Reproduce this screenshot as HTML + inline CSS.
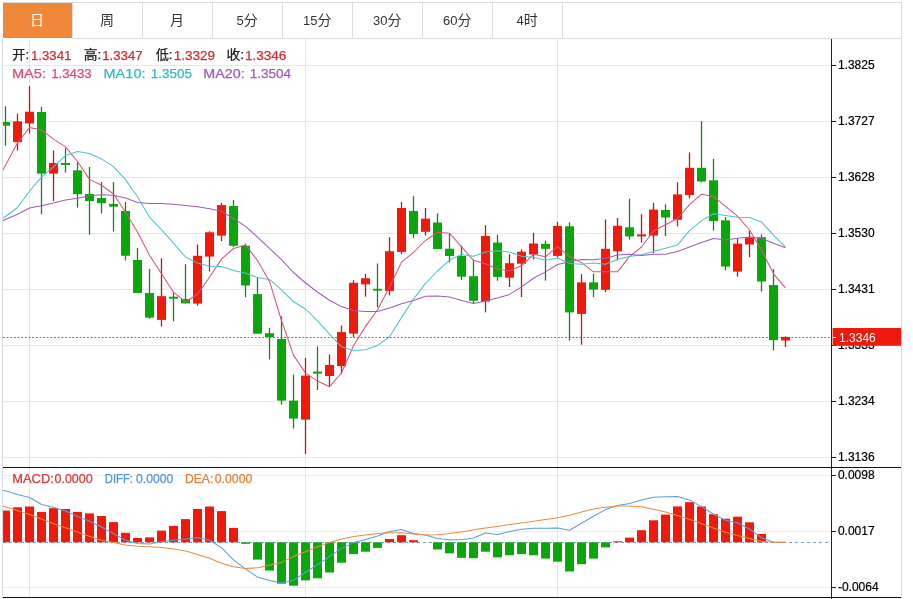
<!DOCTYPE html>
<html lang="zh"><head><meta charset="utf-8"><title>K线图</title>
<style>
html,body{margin:0;padding:0;background:#fff;}
body{width:913px;height:599px;overflow:hidden;}
svg text{font-family:"Liberation Sans","Noto Sans CJK SC",sans-serif;}
</style></head><body>
<svg width="913" height="599" viewBox="0 0 913 599" style="display:block">
<defs><clipPath id="cp"><rect x="3" y="39" width="828" height="560"/></clipPath></defs>
<rect width="913" height="599" fill="#fff"/>
<g shape-rendering="crispEdges">
<rect x="2" y="2" width="900" height="1" fill="#dcdcdc"/>
<rect x="72" y="38" width="830" height="1" fill="#dcdcdc"/>
<rect x="901" y="2" width="1" height="597" fill="#dcdcdc"/>
<rect x="2" y="38" width="1" height="561" fill="#d6dbe6"/>
<rect x="72" y="3" width="1" height="35" fill="#dcdcdc"/>
<rect x="142" y="3" width="1" height="35" fill="#dcdcdc"/>
<rect x="212" y="3" width="1" height="35" fill="#dcdcdc"/>
<rect x="282" y="3" width="1" height="35" fill="#dcdcdc"/>
<rect x="352" y="3" width="1" height="35" fill="#dcdcdc"/>
<rect x="422" y="3" width="1" height="35" fill="#dcdcdc"/>
<rect x="492" y="3" width="1" height="35" fill="#dcdcdc"/>
<rect x="562" y="3" width="1" height="35" fill="#dcdcdc"/>
<rect x="3" y="3" width="69" height="35" fill="#f0883a"/>
<rect x="3" y="65" width="828" height="1" fill="#e8e8e8"/>
<rect x="3" y="121" width="828" height="1" fill="#e8e8e8"/>
<rect x="3" y="177" width="828" height="1" fill="#e8e8e8"/>
<rect x="3" y="233" width="828" height="1" fill="#e8e8e8"/>
<rect x="3" y="289" width="828" height="1" fill="#e8e8e8"/>
<rect x="3" y="345" width="828" height="1" fill="#e8e8e8"/>
<rect x="3" y="401" width="828" height="1" fill="#e8e8e8"/>
<rect x="3" y="457" width="828" height="1" fill="#e8e8e8"/>
<rect x="3" y="475" width="828" height="1" fill="#e9eef4"/>
<rect x="3" y="531" width="828" height="1" fill="#e9eef4"/>
<rect x="3" y="587" width="828" height="1" fill="#e9eef4"/>
<rect x="29" y="39" width="1" height="559" fill="#e3e5e9"/>
<rect x="305" y="39" width="1" height="559" fill="#e3e5e9"/>
<rect x="557" y="39" width="1" height="559" fill="#e3e5e9"/>
</g>
<text x="37" y="24.9" text-anchor="middle" font-size="14" fill="#fff">日</text>
<text x="107" y="24.9" text-anchor="middle" font-size="14" fill="#333">周</text>
<text x="177" y="24.9" text-anchor="middle" font-size="14" fill="#333">月</text>
<text x="247.2" y="24.9" text-anchor="middle" font-size="14" fill="#333"><tspan font-size="13">5</tspan>分</text>
<text x="317.2" y="24.9" text-anchor="middle" font-size="14" fill="#333"><tspan font-size="13">15</tspan>分</text>
<text x="387.2" y="24.9" text-anchor="middle" font-size="14" fill="#333"><tspan font-size="13">30</tspan>分</text>
<text x="457.2" y="24.9" text-anchor="middle" font-size="14" fill="#333"><tspan font-size="13">60</tspan>分</text>
<text x="527.2" y="24.9" text-anchor="middle" font-size="14" fill="#333"><tspan font-size="13">4</tspan>时</text>
<g clip-path="url(#cp)">
<line x1="3" y1="542.5" x2="831" y2="542.5" stroke="#6fa3cc" stroke-width="1" stroke-dasharray="3,3"/>
<g shape-rendering="crispEdges">
<rect x="4.85" y="106.3" width="1.3" height="39.4" fill="#237a2a" shape-rendering="auto"/>
<rect x="1" y="122.0" width="9" height="3.7" fill="#0aa60c" shape-rendering="auto"/>
<rect x="16.85" y="113.7" width="1.3" height="36.9" fill="#a82020" shape-rendering="auto"/>
<rect x="13" y="121.4" width="9" height="20.7" fill="#ef1a0c" shape-rendering="auto"/>
<rect x="28.85" y="86.2" width="1.3" height="47.2" fill="#a82020" shape-rendering="auto"/>
<rect x="25" y="111.7" width="9" height="11.8" fill="#ef1a0c" shape-rendering="auto"/>
<rect x="40.85" y="106.6" width="1.3" height="107.6" fill="#237a2a" shape-rendering="auto"/>
<rect x="37" y="112.0" width="9" height="61.6" fill="#0aa60c" shape-rendering="auto"/>
<rect x="52.85" y="150.6" width="1.3" height="50.4" fill="#a82020" shape-rendering="auto"/>
<rect x="49" y="163.0" width="9" height="10.6" fill="#ef1a0c" shape-rendering="auto"/>
<rect x="64.85" y="148.2" width="1.3" height="24.3" fill="#237a2a" shape-rendering="auto"/>
<rect x="61" y="163.0" width="9" height="2.0" fill="#0aa60c" shape-rendering="auto"/>
<rect x="76.85" y="162.0" width="1.3" height="45.6" fill="#237a2a" shape-rendering="auto"/>
<rect x="73" y="170.3" width="9" height="23.9" fill="#0aa60c" shape-rendering="auto"/>
<rect x="88.85" y="167.0" width="1.3" height="67.7" fill="#237a2a" shape-rendering="auto"/>
<rect x="85" y="194.0" width="9" height="7.0" fill="#0aa60c" shape-rendering="auto"/>
<rect x="100.85" y="182.2" width="1.3" height="31.2" fill="#237a2a" shape-rendering="auto"/>
<rect x="97" y="198.0" width="9" height="5.2" fill="#0aa60c" shape-rendering="auto"/>
<rect x="112.85" y="182.0" width="1.3" height="49.5" fill="#237a2a" shape-rendering="auto"/>
<rect x="109" y="204.0" width="9" height="2.7" fill="#0aa60c" shape-rendering="auto"/>
<rect x="124.85" y="202.0" width="1.3" height="58.4" fill="#237a2a" shape-rendering="auto"/>
<rect x="121" y="211.0" width="9" height="44.7" fill="#0aa60c" shape-rendering="auto"/>
<rect x="136.85" y="248.0" width="1.3" height="45.0" fill="#237a2a" shape-rendering="auto"/>
<rect x="133" y="260.0" width="9" height="33.0" fill="#0aa60c" shape-rendering="auto"/>
<rect x="148.85" y="269.0" width="1.3" height="49.7" fill="#237a2a" shape-rendering="auto"/>
<rect x="145" y="293.0" width="9" height="24.6" fill="#0aa60c" shape-rendering="auto"/>
<rect x="160.85" y="258.3" width="1.3" height="68.3" fill="#a82020" shape-rendering="auto"/>
<rect x="157" y="296.2" width="9" height="23.7" fill="#ef1a0c" shape-rendering="auto"/>
<rect x="172.85" y="292.4" width="1.3" height="28.8" fill="#237a2a" shape-rendering="auto"/>
<rect x="169" y="296.7" width="9" height="2.0" fill="#0aa60c" shape-rendering="auto"/>
<rect x="184.85" y="264.2" width="1.3" height="39.2" fill="#237a2a" shape-rendering="auto"/>
<rect x="181" y="299.0" width="9" height="4.4" fill="#0aa60c" shape-rendering="auto"/>
<rect x="196.85" y="244.5" width="1.3" height="61.1" fill="#a82020" shape-rendering="auto"/>
<rect x="193" y="255.8" width="9" height="47.8" fill="#ef1a0c" shape-rendering="auto"/>
<rect x="208.85" y="231.2" width="1.3" height="40.2" fill="#a82020" shape-rendering="auto"/>
<rect x="205" y="232.3" width="9" height="24.3" fill="#ef1a0c" shape-rendering="auto"/>
<rect x="220.85" y="202.7" width="1.3" height="38.4" fill="#a82020" shape-rendering="auto"/>
<rect x="217" y="205.1" width="9" height="30.5" fill="#ef1a0c" shape-rendering="auto"/>
<rect x="232.85" y="200.0" width="1.3" height="47.2" fill="#237a2a" shape-rendering="auto"/>
<rect x="229" y="206.0" width="9" height="39.8" fill="#0aa60c" shape-rendering="auto"/>
<rect x="244.85" y="243.7" width="1.3" height="53.5" fill="#237a2a" shape-rendering="auto"/>
<rect x="241" y="245.8" width="9" height="39.7" fill="#0aa60c" shape-rendering="auto"/>
<rect x="256.85" y="277.4" width="1.3" height="56.3" fill="#237a2a" shape-rendering="auto"/>
<rect x="253" y="294.1" width="9" height="39.6" fill="#0aa60c" shape-rendering="auto"/>
<rect x="268.85" y="327.8" width="1.3" height="31.7" fill="#237a2a" shape-rendering="auto"/>
<rect x="265" y="333.2" width="9" height="3.8" fill="#0aa60c" shape-rendering="auto"/>
<rect x="280.85" y="316.3" width="1.3" height="88.4" fill="#237a2a" shape-rendering="auto"/>
<rect x="277" y="339.0" width="9" height="61.6" fill="#0aa60c" shape-rendering="auto"/>
<rect x="292.85" y="374.5" width="1.3" height="54.0" fill="#237a2a" shape-rendering="auto"/>
<rect x="289" y="400.6" width="9" height="18.0" fill="#0aa60c" shape-rendering="auto"/>
<rect x="304.85" y="357.9" width="1.3" height="96.1" fill="#a82020" shape-rendering="auto"/>
<rect x="301" y="375.6" width="9" height="44.0" fill="#ef1a0c" shape-rendering="auto"/>
<rect x="316.85" y="346.4" width="1.3" height="43.6" fill="#237a2a" shape-rendering="auto"/>
<rect x="313" y="371.5" width="9" height="2.1" fill="#0aa60c" shape-rendering="auto"/>
<rect x="328.85" y="354.6" width="1.3" height="31.7" fill="#a82020" shape-rendering="auto"/>
<rect x="325" y="365.0" width="9" height="11.0" fill="#ef1a0c" shape-rendering="auto"/>
<rect x="340.85" y="325.5" width="1.3" height="48.5" fill="#a82020" shape-rendering="auto"/>
<rect x="337" y="332.1" width="9" height="34.0" fill="#ef1a0c" shape-rendering="auto"/>
<rect x="352.85" y="280.2" width="1.3" height="56.8" fill="#a82020" shape-rendering="auto"/>
<rect x="349" y="282.8" width="9" height="50.8" fill="#ef1a0c" shape-rendering="auto"/>
<rect x="364.85" y="273.9" width="1.3" height="22.8" fill="#a82020" shape-rendering="auto"/>
<rect x="361" y="278.3" width="9" height="6.1" fill="#ef1a0c" shape-rendering="auto"/>
<rect x="376.85" y="263.5" width="1.3" height="43.7" fill="#237a2a" shape-rendering="auto"/>
<rect x="373" y="288.8" width="9" height="1.8" fill="#0aa60c" shape-rendering="auto"/>
<rect x="388.85" y="237.2" width="1.3" height="58.2" fill="#a82020" shape-rendering="auto"/>
<rect x="385" y="251.2" width="9" height="39.7" fill="#ef1a0c" shape-rendering="auto"/>
<rect x="400.85" y="201.9" width="1.3" height="52.1" fill="#a82020" shape-rendering="auto"/>
<rect x="397" y="208.0" width="9" height="43.9" fill="#ef1a0c" shape-rendering="auto"/>
<rect x="412.85" y="196.2" width="1.3" height="41.8" fill="#237a2a" shape-rendering="auto"/>
<rect x="409" y="211.0" width="9" height="23.0" fill="#0aa60c" shape-rendering="auto"/>
<rect x="424.85" y="208.0" width="1.3" height="27.6" fill="#a82020" shape-rendering="auto"/>
<rect x="421" y="218.7" width="9" height="13.1" fill="#ef1a0c" shape-rendering="auto"/>
<rect x="436.85" y="213.3" width="1.3" height="35.8" fill="#237a2a" shape-rendering="auto"/>
<rect x="433" y="222.5" width="9" height="26.6" fill="#0aa60c" shape-rendering="auto"/>
<rect x="448.85" y="233.5" width="1.3" height="29.0" fill="#237a2a" shape-rendering="auto"/>
<rect x="445" y="248.7" width="9" height="7.3" fill="#0aa60c" shape-rendering="auto"/>
<rect x="460.85" y="245.5" width="1.3" height="34.5" fill="#237a2a" shape-rendering="auto"/>
<rect x="457" y="256.0" width="9" height="20.7" fill="#0aa60c" shape-rendering="auto"/>
<rect x="472.85" y="259.7" width="1.3" height="43.5" fill="#237a2a" shape-rendering="auto"/>
<rect x="469" y="276.2" width="9" height="24.6" fill="#0aa60c" shape-rendering="auto"/>
<rect x="484.85" y="225.2" width="1.3" height="87.1" fill="#a82020" shape-rendering="auto"/>
<rect x="481" y="236.0" width="9" height="65.6" fill="#ef1a0c" shape-rendering="auto"/>
<rect x="496.85" y="234.6" width="1.3" height="46.1" fill="#237a2a" shape-rendering="auto"/>
<rect x="493" y="242.6" width="9" height="34.3" fill="#0aa60c" shape-rendering="auto"/>
<rect x="508.85" y="254.2" width="1.3" height="32.8" fill="#a82020" shape-rendering="auto"/>
<rect x="505" y="263.2" width="9" height="14.5" fill="#ef1a0c" shape-rendering="auto"/>
<rect x="520.85" y="249.3" width="1.3" height="47.8" fill="#a82020" shape-rendering="auto"/>
<rect x="517" y="251.7" width="9" height="12.0" fill="#ef1a0c" shape-rendering="auto"/>
<rect x="532.85" y="232.9" width="1.3" height="26.6" fill="#a82020" shape-rendering="auto"/>
<rect x="529" y="243.5" width="9" height="11.0" fill="#ef1a0c" shape-rendering="auto"/>
<rect x="544.85" y="240.7" width="1.3" height="39.9" fill="#237a2a" shape-rendering="auto"/>
<rect x="541" y="243.9" width="9" height="4.9" fill="#0aa60c" shape-rendering="auto"/>
<rect x="556.85" y="221.8" width="1.3" height="35.7" fill="#a82020" shape-rendering="auto"/>
<rect x="553" y="226.0" width="9" height="29.9" fill="#ef1a0c" shape-rendering="auto"/>
<rect x="568.85" y="222.2" width="1.3" height="118.4" fill="#237a2a" shape-rendering="auto"/>
<rect x="565" y="226.3" width="9" height="86.1" fill="#0aa60c" shape-rendering="auto"/>
<rect x="580.85" y="274.2" width="1.3" height="70.5" fill="#a82020" shape-rendering="auto"/>
<rect x="577" y="282.4" width="9" height="31.5" fill="#ef1a0c" shape-rendering="auto"/>
<rect x="592.85" y="273.6" width="1.3" height="23.5" fill="#237a2a" shape-rendering="auto"/>
<rect x="589" y="282.4" width="9" height="7.2" fill="#0aa60c" shape-rendering="auto"/>
<rect x="604.85" y="219.4" width="1.3" height="72.8" fill="#a82020" shape-rendering="auto"/>
<rect x="601" y="248.8" width="9" height="41.0" fill="#ef1a0c" shape-rendering="auto"/>
<rect x="616.85" y="218.0" width="1.3" height="42.5" fill="#a82020" shape-rendering="auto"/>
<rect x="613" y="225.8" width="9" height="25.5" fill="#ef1a0c" shape-rendering="auto"/>
<rect x="628.85" y="198.8" width="1.3" height="40.8" fill="#237a2a" shape-rendering="auto"/>
<rect x="625" y="227.3" width="9" height="9.1" fill="#0aa60c" shape-rendering="auto"/>
<rect x="640.85" y="214.1" width="1.3" height="28.4" fill="#a82020" shape-rendering="auto"/>
<rect x="637" y="234.4" width="9" height="2.0" fill="#ef1a0c" shape-rendering="auto"/>
<rect x="652.85" y="202.9" width="1.3" height="50.3" fill="#a82020" shape-rendering="auto"/>
<rect x="649" y="209.6" width="9" height="26.0" fill="#ef1a0c" shape-rendering="auto"/>
<rect x="664.85" y="204.4" width="1.3" height="31.6" fill="#237a2a" shape-rendering="auto"/>
<rect x="661" y="210.0" width="9" height="7.5" fill="#0aa60c" shape-rendering="auto"/>
<rect x="676.85" y="182.3" width="1.3" height="44.1" fill="#a82020" shape-rendering="auto"/>
<rect x="673" y="194.4" width="9" height="25.4" fill="#ef1a0c" shape-rendering="auto"/>
<rect x="688.85" y="152.4" width="1.3" height="46.0" fill="#a82020" shape-rendering="auto"/>
<rect x="685" y="167.8" width="9" height="27.3" fill="#ef1a0c" shape-rendering="auto"/>
<rect x="700.85" y="121.2" width="1.3" height="61.1" fill="#237a2a" shape-rendering="auto"/>
<rect x="697" y="167.8" width="9" height="13.7" fill="#0aa60c" shape-rendering="auto"/>
<rect x="712.85" y="158.8" width="1.3" height="71.7" fill="#237a2a" shape-rendering="auto"/>
<rect x="709" y="180.3" width="9" height="40.8" fill="#0aa60c" shape-rendering="auto"/>
<rect x="724.85" y="217.0" width="1.3" height="53.4" fill="#237a2a" shape-rendering="auto"/>
<rect x="721" y="220.3" width="9" height="46.3" fill="#0aa60c" shape-rendering="auto"/>
<rect x="736.85" y="238.4" width="1.3" height="38.3" fill="#a82020" shape-rendering="auto"/>
<rect x="733" y="243.6" width="9" height="28.0" fill="#ef1a0c" shape-rendering="auto"/>
<rect x="748.85" y="231.0" width="1.3" height="26.3" fill="#a82020" shape-rendering="auto"/>
<rect x="745" y="237.2" width="9" height="7.3" fill="#ef1a0c" shape-rendering="auto"/>
<rect x="760.85" y="234.3" width="1.3" height="57.2" fill="#237a2a" shape-rendering="auto"/>
<rect x="757" y="237.2" width="9" height="44.3" fill="#0aa60c" shape-rendering="auto"/>
<rect x="772.85" y="269.0" width="1.3" height="81.4" fill="#237a2a" shape-rendering="auto"/>
<rect x="769" y="285.0" width="9" height="55.2" fill="#0aa60c" shape-rendering="auto"/>
<rect x="784.85" y="336.4" width="1.3" height="10.6" fill="#a82020" shape-rendering="auto"/>
<rect x="781" y="336.9" width="9" height="3.6" fill="#ef1a0c" shape-rendering="auto"/>
<rect x="1" y="510.6" width="9" height="31.7" fill="#ef1a0c" shape-rendering="auto"/>
<rect x="13" y="507.3" width="9" height="35.0" fill="#ef1a0c" shape-rendering="auto"/>
<rect x="25" y="506.5" width="9" height="35.8" fill="#ef1a0c" shape-rendering="auto"/>
<rect x="37" y="511.9" width="9" height="30.4" fill="#ef1a0c" shape-rendering="auto"/>
<rect x="49" y="508.1" width="9" height="34.2" fill="#ef1a0c" shape-rendering="auto"/>
<rect x="61" y="509.0" width="9" height="33.3" fill="#ef1a0c" shape-rendering="auto"/>
<rect x="73" y="511.9" width="9" height="30.4" fill="#ef1a0c" shape-rendering="auto"/>
<rect x="85" y="513.4" width="9" height="28.9" fill="#ef1a0c" shape-rendering="auto"/>
<rect x="97" y="516.0" width="9" height="26.3" fill="#ef1a0c" shape-rendering="auto"/>
<rect x="109" y="522.1" width="9" height="20.2" fill="#ef1a0c" shape-rendering="auto"/>
<rect x="121" y="532.8" width="9" height="9.5" fill="#ef1a0c" shape-rendering="auto"/>
<rect x="133" y="538.0" width="9" height="4.3" fill="#ef1a0c" shape-rendering="auto"/>
<rect x="145" y="537.4" width="9" height="4.9" fill="#ef1a0c" shape-rendering="auto"/>
<rect x="157" y="530.6" width="9" height="11.7" fill="#ef1a0c" shape-rendering="auto"/>
<rect x="169" y="525.9" width="9" height="16.4" fill="#ef1a0c" shape-rendering="auto"/>
<rect x="181" y="519.1" width="9" height="23.2" fill="#ef1a0c" shape-rendering="auto"/>
<rect x="193" y="509.0" width="9" height="33.3" fill="#ef1a0c" shape-rendering="auto"/>
<rect x="205" y="506.5" width="9" height="35.8" fill="#ef1a0c" shape-rendering="auto"/>
<rect x="217" y="511.1" width="9" height="31.2" fill="#ef1a0c" shape-rendering="auto"/>
<rect x="229" y="527.9" width="9" height="14.4" fill="#ef1a0c" shape-rendering="auto"/>
<rect x="241" y="542.3" width="9" height="1.5" fill="#0aa60c" shape-rendering="auto"/>
<rect x="253" y="542.3" width="9" height="17.3" fill="#0aa60c" shape-rendering="auto"/>
<rect x="265" y="542.3" width="9" height="28.3" fill="#0aa60c" shape-rendering="auto"/>
<rect x="277" y="542.3" width="9" height="41.4" fill="#0aa60c" shape-rendering="auto"/>
<rect x="289" y="542.3" width="9" height="43.4" fill="#0aa60c" shape-rendering="auto"/>
<rect x="301" y="542.3" width="9" height="38.1" fill="#0aa60c" shape-rendering="auto"/>
<rect x="313" y="542.3" width="9" height="36.0" fill="#0aa60c" shape-rendering="auto"/>
<rect x="325" y="542.3" width="9" height="30.2" fill="#0aa60c" shape-rendering="auto"/>
<rect x="337" y="542.3" width="9" height="20.4" fill="#0aa60c" shape-rendering="auto"/>
<rect x="349" y="542.3" width="9" height="11.8" fill="#0aa60c" shape-rendering="auto"/>
<rect x="361" y="542.3" width="9" height="9.4" fill="#0aa60c" shape-rendering="auto"/>
<rect x="373" y="542.3" width="9" height="5.6" fill="#0aa60c" shape-rendering="auto"/>
<rect x="385" y="539.0" width="9" height="3.3" fill="#ef1a0c" shape-rendering="auto"/>
<rect x="397" y="535.2" width="9" height="7.1" fill="#ef1a0c" shape-rendering="auto"/>
<rect x="409" y="540.2" width="9" height="2.1" fill="#ef1a0c" shape-rendering="auto"/>
<rect x="433" y="542.3" width="9" height="7.2" fill="#0aa60c" shape-rendering="auto"/>
<rect x="445" y="542.3" width="9" height="11.0" fill="#0aa60c" shape-rendering="auto"/>
<rect x="457" y="542.3" width="9" height="15.5" fill="#0aa60c" shape-rendering="auto"/>
<rect x="469" y="542.3" width="9" height="15.9" fill="#0aa60c" shape-rendering="auto"/>
<rect x="481" y="542.3" width="9" height="9.4" fill="#0aa60c" shape-rendering="auto"/>
<rect x="493" y="542.3" width="9" height="15.1" fill="#0aa60c" shape-rendering="auto"/>
<rect x="505" y="542.3" width="9" height="13.0" fill="#0aa60c" shape-rendering="auto"/>
<rect x="517" y="542.3" width="9" height="11.8" fill="#0aa60c" shape-rendering="auto"/>
<rect x="529" y="542.3" width="9" height="13.0" fill="#0aa60c" shape-rendering="auto"/>
<rect x="541" y="542.3" width="9" height="16.3" fill="#0aa60c" shape-rendering="auto"/>
<rect x="553" y="542.3" width="9" height="19.4" fill="#0aa60c" shape-rendering="auto"/>
<rect x="565" y="542.3" width="9" height="29.2" fill="#0aa60c" shape-rendering="auto"/>
<rect x="577" y="542.3" width="9" height="21.9" fill="#0aa60c" shape-rendering="auto"/>
<rect x="589" y="542.3" width="9" height="16.3" fill="#0aa60c" shape-rendering="auto"/>
<rect x="601" y="542.3" width="9" height="5.1" fill="#0aa60c" shape-rendering="auto"/>
<rect x="613" y="541.3" width="9" height="1.0" fill="#ef1a0c" shape-rendering="auto"/>
<rect x="625" y="537.6" width="9" height="4.7" fill="#ef1a0c" shape-rendering="auto"/>
<rect x="637" y="530.2" width="9" height="12.1" fill="#ef1a0c" shape-rendering="auto"/>
<rect x="649" y="520.3" width="9" height="22.0" fill="#ef1a0c" shape-rendering="auto"/>
<rect x="661" y="514.6" width="9" height="27.7" fill="#ef1a0c" shape-rendering="auto"/>
<rect x="673" y="506.4" width="9" height="35.9" fill="#ef1a0c" shape-rendering="auto"/>
<rect x="685" y="502.2" width="9" height="40.1" fill="#ef1a0c" shape-rendering="auto"/>
<rect x="697" y="506.5" width="9" height="35.8" fill="#ef1a0c" shape-rendering="auto"/>
<rect x="709" y="514.2" width="9" height="28.1" fill="#ef1a0c" shape-rendering="auto"/>
<rect x="721" y="518.7" width="9" height="23.6" fill="#ef1a0c" shape-rendering="auto"/>
<rect x="733" y="516.7" width="9" height="25.6" fill="#ef1a0c" shape-rendering="auto"/>
<rect x="745" y="522.3" width="9" height="20.0" fill="#ef1a0c" shape-rendering="auto"/>
<rect x="757" y="534.0" width="9" height="8.3" fill="#ef1a0c" shape-rendering="auto"/>
</g>
<polyline points="0.0,175.5 5.5,165.3 17.5,143.0 29.5,127.6 41.5,130.0 53.5,139.1 65.5,146.9 77.5,161.5 89.5,179.4 101.5,185.3 113.5,194.0 125.5,212.2 137.5,231.9 149.5,255.2 161.5,273.8 173.5,292.2 185.5,301.8 197.5,294.3 209.5,277.3 221.5,259.1 233.5,248.5 245.5,244.9 257.5,260.5 269.5,281.4 281.5,320.5 293.5,355.1 305.5,373.1 317.5,381.1 329.5,386.7 341.5,373.0 353.5,345.8 365.5,326.4 377.5,309.8 389.5,287.0 401.5,262.2 413.5,252.4 425.5,240.5 437.5,232.2 449.5,233.2 461.5,246.9 473.5,260.3 485.5,263.7 497.5,269.3 509.5,270.7 521.5,265.7 533.5,254.3 545.5,256.8 557.5,246.6 569.5,256.5 581.5,262.6 593.5,271.8 605.5,271.8 617.5,271.8 629.5,256.6 641.5,247.0 653.5,231.0 665.5,224.7 677.5,218.5 689.5,204.7 701.5,194.2 713.5,196.5 725.5,206.3 737.5,216.1 749.5,230.0 761.5,250.0 773.5,273.8 785.5,287.9" fill="none" stroke="#e0507a" stroke-width="1.05" stroke-linejoin="round"/>
<polyline points="0.0,219.5 5.5,216.5 17.5,207.5 29.5,191.2 41.5,177.2 53.5,166.8 65.5,155.6 77.5,151.5 89.5,153.4 101.5,158.9 113.5,166.6 125.5,179.6 137.5,196.7 149.5,217.3 161.5,229.6 173.5,243.1 185.5,257.0 197.5,263.1 209.5,266.3 221.5,266.4 233.5,270.4 245.5,273.3 257.5,277.4 269.5,279.4 281.5,289.8 293.5,301.8 305.5,309.0 317.5,320.8 329.5,334.1 341.5,346.8 353.5,350.4 365.5,349.7 377.5,345.4 389.5,336.8 401.5,317.6 413.5,299.1 425.5,283.4 437.5,271.0 449.5,260.1 461.5,254.5 473.5,256.3 485.5,252.1 497.5,250.7 509.5,251.9 521.5,256.3 533.5,257.3 545.5,260.3 557.5,258.0 569.5,263.6 581.5,264.2 593.5,263.1 605.5,264.3 617.5,259.2 629.5,256.5 641.5,254.8 653.5,251.4 665.5,248.3 677.5,245.1 689.5,230.7 701.5,220.6 713.5,213.7 725.5,215.5 737.5,217.3 749.5,217.4 761.5,222.1 773.5,235.1 785.5,247.1" fill="none" stroke="#4cc4d0" stroke-width="1.05" stroke-linejoin="round"/>
<polyline points="0.0,222.0 5.5,219.5 17.5,214.2 29.5,208.0 41.5,205.7 53.5,203.0 65.5,199.9 77.5,198.3 89.5,195.8 101.5,194.8 113.5,195.3 125.5,198.1 137.5,202.4 149.5,203.5 161.5,203.5 173.5,204.3 185.5,205.5 197.5,206.8 209.5,208.7 221.5,211.2 233.5,218.5 245.5,226.4 257.5,237.1 269.5,248.3 281.5,259.7 293.5,272.5 305.5,283.0 317.5,292.0 329.5,300.2 341.5,306.6 353.5,310.4 365.5,311.5 377.5,311.4 389.5,308.1 401.5,303.7 413.5,300.4 425.5,296.2 437.5,295.9 449.5,297.1 461.5,300.6 473.5,303.4 485.5,300.9 497.5,298.1 509.5,294.4 521.5,286.9 533.5,278.2 545.5,271.9 557.5,264.5 569.5,261.8 581.5,259.4 593.5,259.7 605.5,258.2 617.5,255.0 629.5,254.2 641.5,255.6 653.5,254.3 665.5,254.3 677.5,251.5 689.5,247.1 701.5,242.4 713.5,238.4 725.5,239.9 737.5,238.3 749.5,237.0 761.5,238.4 773.5,243.3 785.5,247.7" fill="none" stroke="#a05cb8" stroke-width="1.05" stroke-linejoin="round"/>
<polyline points="0.0,490.0 5.5,490.8 17.5,494.5 29.5,497.5 41.5,504.5 53.5,507.3 65.5,511.0 77.5,516.4 89.5,521.3 101.5,527.0 113.5,533.6 125.5,540.2 137.5,543.6 149.5,544.0 161.5,541.5 173.5,540.3 185.5,539.0 197.5,537.4 209.5,540.2 221.5,547.6 233.5,559.9 245.5,568.9 257.5,577.1 269.5,580.4 281.5,583.0 293.5,580.4 305.5,572.2 317.5,564.8 329.5,556.6 341.5,548.4 353.5,542.6 365.5,539.4 377.5,536.0 389.5,531.5 401.5,529.5 413.5,533.6 425.5,535.0 437.5,538.5 449.5,539.7 461.5,539.7 473.5,538.0 485.5,533.1 497.5,534.4 509.5,531.5 521.5,529.2 533.5,528.3 545.5,528.3 557.5,527.9 569.5,530.3 581.5,523.3 593.5,516.2 605.5,509.6 617.5,505.5 629.5,503.4 641.5,500.1 653.5,497.3 665.5,496.8 677.5,496.5 689.5,499.9 701.5,506.6 713.5,514.2 725.5,520.3 737.5,522.8 749.5,529.0 761.5,537.6 773.5,542.3 785.5,542.3" fill="none" stroke="#5a9ee0" stroke-width="1.05" stroke-linejoin="round"/>
<polyline points="0.0,506.0 5.5,506.8 17.5,510.5 29.5,514.4 41.5,519.0 53.5,523.7 65.5,527.8 77.5,532.0 89.5,536.2 101.5,540.2 113.5,542.6 125.5,545.1 137.5,546.2 149.5,546.7 161.5,547.6 173.5,549.0 185.5,550.9 197.5,554.5 209.5,558.2 221.5,563.2 233.5,566.8 245.5,568.4 257.5,567.8 269.5,565.3 281.5,562.4 293.5,556.6 305.5,551.7 317.5,546.7 329.5,542.6 341.5,539.0 353.5,536.4 365.5,535.0 377.5,533.6 389.5,532.8 401.5,532.8 413.5,534.0 425.5,535.0 437.5,534.8 449.5,533.6 461.5,532.0 473.5,529.8 485.5,527.9 497.5,526.5 509.5,524.6 521.5,522.9 533.5,521.3 545.5,519.6 557.5,517.7 569.5,515.2 581.5,512.1 593.5,509.1 605.5,507.2 617.5,506.0 629.5,506.0 641.5,506.8 653.5,509.3 665.5,512.1 677.5,515.4 689.5,519.3 701.5,523.6 713.5,528.0 725.5,532.3 737.5,535.6 749.5,538.4 761.5,541.3 773.5,542.3 785.5,542.3" fill="none" stroke="#f08a3c" stroke-width="1.05" stroke-linejoin="round"/>
<line x1="3" y1="337.5" x2="831" y2="337.5" stroke="#e8201a" stroke-opacity="0.85" stroke-width="1" stroke-dasharray="1.9,1.75"/>
</g>
<g shape-rendering="crispEdges">
<rect x="831" y="39" width="1" height="560" fill="#222"/>
<rect x="3" y="467" width="898" height="1" fill="#111"/>
<rect x="3" y="597" width="898" height="1" fill="#111"/>
<rect x="832" y="65" width="4" height="1" fill="#222"/>
<rect x="832" y="121" width="4" height="1" fill="#222"/>
<rect x="832" y="177" width="4" height="1" fill="#222"/>
<rect x="832" y="233" width="4" height="1" fill="#222"/>
<rect x="832" y="289" width="4" height="1" fill="#222"/>
<rect x="832" y="345" width="4" height="1" fill="#222"/>
<rect x="832" y="401" width="4" height="1" fill="#222"/>
<rect x="832" y="457" width="4" height="1" fill="#222"/>
<rect x="832" y="475" width="4" height="1" fill="#222"/>
<rect x="832" y="531" width="4" height="1" fill="#222"/>
<rect x="832" y="587" width="4" height="1" fill="#222"/>
</g>
<text x="837.9" y="69.4" font-size="12" fill="#000" stroke="#000" stroke-width="0.2" class="n">1.3825</text>
<text x="837.9" y="125.4" font-size="12" fill="#000" stroke="#000" stroke-width="0.2" class="n">1.3727</text>
<text x="837.9" y="181.4" font-size="12" fill="#000" stroke="#000" stroke-width="0.2" class="n">1.3628</text>
<text x="837.9" y="237.4" font-size="12" fill="#000" stroke="#000" stroke-width="0.2" class="n">1.3530</text>
<text x="837.9" y="293.4" font-size="12" fill="#000" stroke="#000" stroke-width="0.2" class="n">1.3431</text>
<text x="837.9" y="349.4" font-size="12" fill="#000" stroke="#000" stroke-width="0.2" class="n">1.3333</text>
<text x="837.9" y="405.4" font-size="12" fill="#000" stroke="#000" stroke-width="0.2" class="n">1.3234</text>
<text x="837.9" y="461.4" font-size="12" fill="#000" stroke="#000" stroke-width="0.2" class="n">1.3136</text>
<text x="837.9" y="479.4" font-size="12" fill="#000" stroke="#000" stroke-width="0.2" class="n">0.0098</text>
<text x="837.9" y="535.4" font-size="12" fill="#000" stroke="#000" stroke-width="0.2" class="n">0.0017</text>
<text x="837.9" y="591.4" font-size="12" fill="#000" stroke="#000" stroke-width="0.2" class="n">-0.0064</text>
<rect x="832.6" y="328" width="68.4" height="17.8" fill="#ef1a0c"/>
<rect x="833" y="337" width="3" height="1" fill="#fff"/>
<text x="839.1" y="341.6" font-size="12" fill="#fff" class="n">1.3346</text>
<text x="12.31" y="58.9" font-size="13" fill="#222" stroke="#222" stroke-width="0.25" textLength="16.84" lengthAdjust="spacingAndGlyphs">开:</text>
<text x="31.02" y="59.9" font-size="13.4" fill="#d42a2a" stroke="#d42a2a" stroke-width="0.25" textLength="40.36" lengthAdjust="spacingAndGlyphs">1.3341</text>
<text x="83.69" y="58.9" font-size="13" fill="#222" stroke="#222" stroke-width="0.25" textLength="17.58" lengthAdjust="spacingAndGlyphs">高:</text>
<text x="102.19" y="59.9" font-size="13.4" fill="#d42a2a" stroke="#d42a2a" stroke-width="0.25" textLength="40.49" lengthAdjust="spacingAndGlyphs">1.3347</text>
<text x="155.66" y="58.9" font-size="13" fill="#222" stroke="#222" stroke-width="0.25" textLength="16.84" lengthAdjust="spacingAndGlyphs">低:</text>
<text x="173.65" y="59.9" font-size="13.4" fill="#d42a2a" stroke="#d42a2a" stroke-width="0.25" textLength="41.53" lengthAdjust="spacingAndGlyphs">1.3329</text>
<text x="226.52" y="58.9" font-size="13" fill="#222" stroke="#222" stroke-width="0.25" textLength="17.63" lengthAdjust="spacingAndGlyphs">收:</text>
<text x="244.91" y="59.9" font-size="13.4" fill="#d42a2a" stroke="#d42a2a" stroke-width="0.25" textLength="41.41" lengthAdjust="spacingAndGlyphs">1.3346</text>
<text x="11.95" y="78.1" font-size="13.6" fill="#de4a78" stroke="#de4a78" stroke-width="0.25" textLength="34.13" lengthAdjust="spacingAndGlyphs">MA5:</text>
<text x="51.16" y="78.1" font-size="13.6" fill="#de4a78" stroke="#de4a78" stroke-width="0.25" textLength="40.58" lengthAdjust="spacingAndGlyphs">1.3433</text>
<text x="103.53" y="78.1" font-size="13.6" fill="#35b8c0" stroke="#35b8c0" stroke-width="0.25" textLength="42.02" lengthAdjust="spacingAndGlyphs">MA10:</text>
<text x="150.65" y="78.1" font-size="13.6" fill="#35b8c0" stroke="#35b8c0" stroke-width="0.25" textLength="41.27" lengthAdjust="spacingAndGlyphs">1.3505</text>
<text x="203.32" y="78.1" font-size="13.6" fill="#a258c0" stroke="#a258c0" stroke-width="0.25" textLength="41.42" lengthAdjust="spacingAndGlyphs">MA20:</text>
<text x="249.66" y="78.1" font-size="13.6" fill="#a258c0" stroke="#a258c0" stroke-width="0.25" textLength="41.51" lengthAdjust="spacingAndGlyphs">1.3504</text>
<text x="12.24" y="482.8" font-size="12.2" fill="#d83a3a" stroke="#d83a3a" stroke-width="0.25" textLength="41.6" lengthAdjust="spacingAndGlyphs">MACD:</text>
<text x="54.49" y="482.8" font-size="12.2" fill="#d83a3a" stroke="#d83a3a" stroke-width="0.25" textLength="38.13" lengthAdjust="spacingAndGlyphs">0.0000</text>
<text x="104.8" y="482.8" font-size="12.2" fill="#4f96dc" stroke="#4f96dc" stroke-width="0.25" textLength="28.13" lengthAdjust="spacingAndGlyphs">DIFF:</text>
<text x="136.0" y="482.8" font-size="12.2" fill="#4f96dc" stroke="#4f96dc" stroke-width="0.25" textLength="37.25" lengthAdjust="spacingAndGlyphs">0.0000</text>
<text x="185.02" y="482.8" font-size="12.2" fill="#e8803a" stroke="#e8803a" stroke-width="0.25" textLength="28.26" lengthAdjust="spacingAndGlyphs">DEA:</text>
<text x="214.73" y="482.8" font-size="12.2" fill="#e8803a" stroke="#e8803a" stroke-width="0.25" textLength="37.61" lengthAdjust="spacingAndGlyphs">0.0000</text>
</svg>
</body></html>
